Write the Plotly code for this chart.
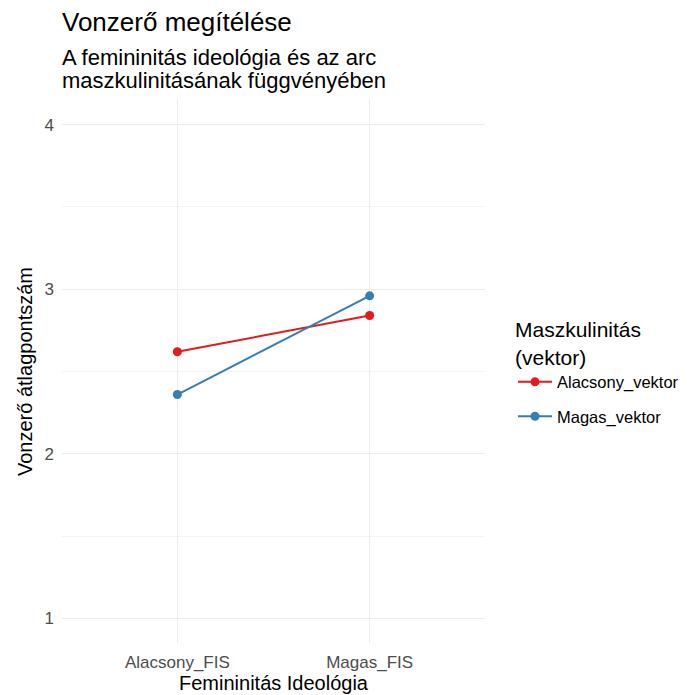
import plotly.graph_objects as go

categories = ["Alacsony_FIS", "Magas_FIS"]
series_names = ["Alacsony_vektor", "Magas_vektor"]
alacsony_vektor = [2.62, 2.84]
magas_vektor = [2.36, 2.96]
y_ticks = [1, 2, 3, 4]

colors = ["#E41A1C", "#377EB8"]
FONT = "Liberation Sans, Arial, sans-serif"

fig = go.Figure()
for name, vals, col in zip(series_names, [alacsony_vektor, magas_vektor], colors):
    fig.add_trace(go.Scatter(
        x=categories, y=vals, name=name, legendgroup=name, mode="lines+markers",
        line=dict(color=col, width=2), marker=dict(color=col, size=9),
    ))

# page body has an 8px margin; figure sized to fit the window
OFF = 8
W, H = 687 - OFF, 695 - OFF
ml, mt = 62 - OFF, 100 - OFF
mr = W - (485 - OFF)
mb = H - (643 - OFF)
ph = H - mt - mb
pw = W - ml - mr

def py(px_from_top):
    return (H - mb - (px_from_top - OFF)) / ph

fig.update_layout(
    width=W, height=H,
    margin=dict(l=ml, r=mr, t=mt, b=mb, pad=0, autoexpand=False),
    plot_bgcolor="white", paper_bgcolor="white",
    font=dict(family=FONT, color="black"),
    showlegend=True,
    legend=dict(
        title=dict(text="Maszkulinitás<br>(vektor)", font=dict(size=21, color="black")),
        font=dict(size=16.5, color="black"),
        x=1 + 28 / pw, xanchor="left", xref="paper", y=py(372), yanchor="middle",
        bgcolor="rgba(0,0,0,0)", tracegroupgap=10, itemwidth=34,
    ),
    xaxis=dict(
        type="category", range=[-0.6, 1.6], automargin=False,
        showgrid=True, gridcolor="#EBEBEB", gridwidth=1.2,
        zeroline=False, showline=False, ticks="", ticklabelstandoff=7,
        tickfont=dict(size=17, color="#4D4D4D"),
        title=dict(text="Femininitás Ideológia", font=dict(size=20, color="black"), standoff=2),
    ),
    yaxis=dict(
        range=[0.85, 4.15], tickvals=y_ticks, ticktext=[str(t) for t in y_ticks], automargin=False,
        showgrid=True, gridcolor="#EBEBEB", gridwidth=1.2,
        minor=dict(dtick=0.5, tick0=0.5, showgrid=True, gridcolor="#F3F3F3", gridwidth=0.8),
        zeroline=False, showline=False, ticks="", ticklabelstandoff=7,
        tickfont=dict(size=17, color="#4D4D4D"),
        title=dict(text="Vonzerő átlagpontszám", font=dict(size=20, color="black"), standoff=6),
    ),
    annotations=[
        dict(text="Vonzerő megítélése", xref="paper", yref="paper", x=0, y=py(22),
             xanchor="left", yanchor="middle", showarrow=False, xshift=-2,
             font=dict(size=26, color="black")),
        dict(text="A femininitás ideológia és az arc", xref="paper", yref="paper", x=0, y=py(57),
             xanchor="left", yanchor="middle", showarrow=False, xshift=-2,
             font=dict(size=22, color="black")),
        dict(text="maszkulinitásának függvényében", xref="paper", yref="paper", x=0, y=py(80),
             xanchor="left", yanchor="middle", showarrow=False, xshift=-2,
             font=dict(size=22, color="black")),
    ],
)

fig.write_html("out.html")
